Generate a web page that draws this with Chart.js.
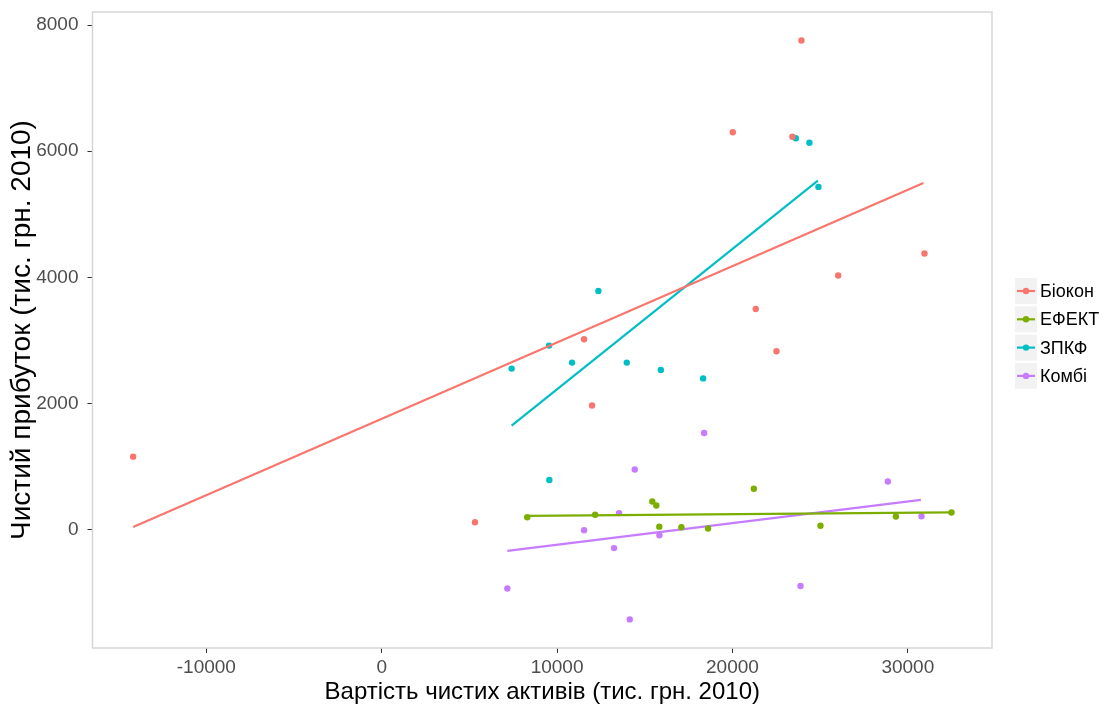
<!DOCTYPE html>
<html>
<head>
<meta charset="utf-8">
<script src="https://cdn.jsdelivr.net/npm/chart.js@4.4.1/dist/chart.umd.min.js"></script>
<style>
  html, body { margin: 0; padding: 0; background: #fff; }
  #wrap { width: 1105px; height: 710px; position: relative; }
</style>
</head>
<body>
<div id="wrap"><canvas id="chart"></canvas></div>
<script>
// ---- DATA ----
const groups = ["Біокон", "ЕФЕКТ", "ЗПКФ", "Комбі"];
const colors = ["#F8766D", "#7CAE00", "#00BFC4", "#C77CFF"];

// net asset value (x) and net profit (y), thousand UAH 2010
const biokonX = [-14170, 5320, 11540, 11995, 22510, 23935, 20020, 23420, 26030, 30950, 21330];
const biokonY = [1160, 120, 3020, 1970, 2830, 7755, 6300, 6230, 4030, 4380, 3500];
const efektX = [8300, 12170, 15430, 15660, 15830, 17090, 18610, 21220, 25020, 29320, 32490];
const efektY = [200, 240, 450, 385, 50, 40, 20, 650, 65, 210, 275];
const zpkfX = [7410, 9560, 9545, 10855, 12355, 13975, 15915, 18330, 23615, 24390, 24905];
const zpkfY = [2555, 790, 2920, 2650, 3785, 2650, 2535, 2400, 6205, 6135, 5435];
const kombiX = [7165, 11540, 13250, 13535, 14430, 14145, 15835, 18385, 23880, 28860, 30780];
const kombiY = [-930, -5, -290, 265, 955, -1420, -85, 1535, -890, 765, 215];

// fitted lines (end points)
const fitX = [[-14170, 30890], [8300, 32490], [7410, 24870], [7165, 30745]];
const fitY = [[45, 5495], [222, 277], [1650, 5535], [-335, 475]];

const xTicks = [-10000, 0, 10000, 20000, 30000];
const yTicks = [0, 2000, 4000, 6000, 8000];
const xRange = [-16490, 34800];
const yRange = [-1873, 8207];

const xTitle = "Вартість чистих активів (тис. грн. 2010)";
const yTitle = "Чистий прибуток (тис. грн. 2010)";

const FONT = '"Liberation Sans", Arial, sans-serif';

function toPoints(xs, ys) {
  return xs.map((x, i) => ({ x: x, y: ys[i] }));
}

const pointSets = [[biokonX, biokonY], [efektX, efektY], [zpkfX, zpkfY], [kombiX, kombiY]];

const datasets = [];
groups.forEach((g, i) => {
  datasets.push({
    label: g,
    data: toPoints(pointSets[i][0], pointSets[i][1]),
    backgroundColor: colors[i],
    borderColor: colors[i],
    pointRadius: 3.2,
    pointBorderWidth: 0,
    showLine: false
  });
  datasets.push({
    label: g + " fit",
    data: toPoints(fitX[i], fitY[i]),
    borderColor: colors[i],
    borderWidth: 2.2,
    pointRadius: 0,
    showLine: true,
    fill: false
  });
});

// panel border + ggplot-like legend on the right
const panelPlugin = {
  id: "panel",
  afterDraw(chart) {
    const { ctx, chartArea: a } = chart;
    ctx.save();
    ctx.strokeStyle = "#d6d6d6";
    ctx.lineWidth = 1.5;
    ctx.strokeRect(a.left, a.top, a.right - a.left, a.bottom - a.top);

    // legend
    const keyX = 1015, keyW = 22, keyH = 26, rowStep = 28.3, firstTop = 278;
    ctx.font = "18px " + FONT;
    ctx.textBaseline = "middle";
    ctx.textAlign = "left";
    groups.forEach((g, i) => {
      const top = firstTop + i * rowStep;
      const cy = top + keyH / 2;
      ctx.fillStyle = "#f2f2f2";
      ctx.fillRect(keyX, top, keyW, keyH);
      ctx.strokeStyle = colors[i];
      ctx.lineWidth = 2.2;
      ctx.beginPath();
      ctx.moveTo(keyX + 2, cy);
      ctx.lineTo(keyX + keyW - 2, cy);
      ctx.stroke();
      ctx.fillStyle = colors[i];
      ctx.beginPath();
      ctx.arc(keyX + keyW / 2, cy, 3.2, 0, Math.PI * 2);
      ctx.fill();
      ctx.fillStyle = "#000";
      ctx.fillText(g, 1040, cy + 1);
    });
    ctx.restore();
  }
};

new Chart(document.getElementById("chart"), {
  type: "scatter",
  data: { datasets: datasets },
  plugins: [panelPlugin],
  options: {
    responsive: true,
    maintainAspectRatio: false,
    animation: false,
    layout: { padding: { left: 0, right: 113, top: 12, bottom: 0 } },
    plugins: { legend: { display: false }, tooltip: { enabled: false } },
    scales: {
      x: {
        type: "linear",
        min: xRange[0],
        max: xRange[1],
        afterBuildTicks: s => { s.ticks = xTicks.map(v => ({ value: v })); },
        afterFit: s => { s.height = 62; s.paddingLeft = 0; s.paddingRight = 0; },
        grid: { drawOnChartArea: false, drawTicks: true, tickLength: 5, color: "#333" },
        border: { display: false },
        ticks: { font: { family: FONT, size: 19 }, color: "#4d4d4d", padding: 3, maxRotation: 0,
                 callback: v => String(v) },
        title: { display: true, text: xTitle, color: "#000", font: { family: FONT, size: 24 }, padding: { top: 0, bottom: 3 } }
      },
      y: {
        type: "linear",
        min: yRange[0],
        max: yRange[1],
        afterBuildTicks: s => { s.ticks = yTicks.map(v => ({ value: v })); },
        afterFit: s => { s.width = 92.5; s.paddingTop = 0; s.paddingBottom = 0; },
        grid: { drawOnChartArea: false, drawTicks: true, tickLength: 5, color: "#333" },
        border: { display: false },
        ticks: { font: { family: FONT, size: 19 }, color: "#4d4d4d", padding: 9,
                 callback: v => String(v) },
        title: { display: true, text: yTitle, color: "#000", font: { family: FONT, size: 28 }, padding: { top: 5, bottom: 0 } }
      }
    }
  }
});
</script>
</body>
</html>
